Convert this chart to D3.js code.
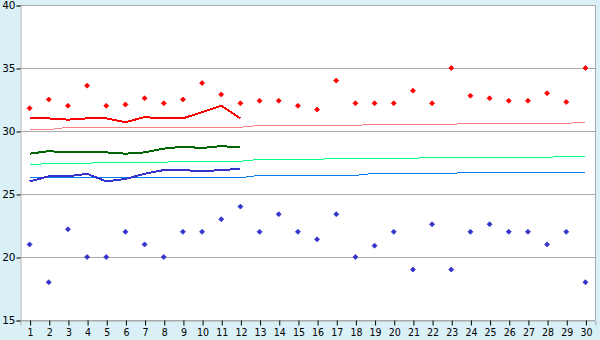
<!DOCTYPE html>
<html>
<head>
<meta charset="utf-8">
<script src="https://cdn.jsdelivr.net/npm/d3@7"></script>
<style>
  body { margin: 0; background: #d9f0f7; }
  svg { display: block; }
</style>
</head>
<body>
<div id="chart"></div>
<script>
// days of the month
const days = d3.range(1, 31);

// daily max / min (scatter points)
const dailyMax = [31.8, 32.5, 32.0, 33.6, 32.0, 32.1, 32.6, 32.2, 32.5, 33.8,
                  32.9, 32.2, 32.4, 32.4, 32.0, 31.7, 34.0, 32.2, 32.2, 32.2,
                  33.2, 32.2, 35.0, 32.8, 32.6, 32.4, 32.4, 33.0, 32.3, 35.0];
const dailyMin = [21.0, 18.0, 22.2, 20.0, 20.0, 22.0, 21.0, 20.0, 22.0, 22.0,
                  23.0, 24.0, 22.0, 23.4, 22.0, 21.4, 23.4, 20.0, 20.9, 22.0,
                  19.0, 22.6, 19.0, 22.0, 22.6, 22.0, 22.0, 21.0, 22.0, 18.0];

// running averages (first 12 days)
const avgMax  = [31.0, 31.0, 30.9, 31.0, 31.0, 30.7, 31.1, 31.0, 31.0, 31.5, 32.0, 31.0];
const avgMean = [28.2, 28.4, 28.3, 28.3, 28.3, 28.2, 28.3, 28.6, 28.75, 28.65, 28.8, 28.7];
const avgMin  = [26.0, 26.4, 26.4, 26.6, 26.0, 26.2, 26.6, 26.9, 26.9, 26.8, 26.9, 27.0];

// normals (whole month)
const normMax  = [30.1, 30.1, 30.3, 30.3, 30.3, 30.3, 30.3, 30.3, 30.3, 30.3,
                  30.3, 30.3, 30.45, 30.45, 30.45, 30.45, 30.45, 30.45, 30.53, 30.53,
                  30.53, 30.53, 30.53, 30.61, 30.61, 30.61, 30.61, 30.61, 30.61, 30.69];
const normMean = [27.3, 27.44, 27.44, 27.44, 27.52, 27.52, 27.52, 27.52, 27.6, 27.6,
                  27.6, 27.6, 27.75, 27.75, 27.75, 27.75, 27.83, 27.83, 27.83, 27.83,
                  27.83, 27.91, 27.91, 27.91, 27.91, 27.91, 27.91, 27.91, 27.99, 27.99];
const normMin  = [26.3, 26.3, 26.3, 26.3, 26.3, 26.3, 26.3, 26.3, 26.3, 26.3,
                  26.3, 26.3, 26.48, 26.48, 26.48, 26.48, 26.48, 26.48, 26.64, 26.64,
                  26.64, 26.64, 26.64, 26.72, 26.72, 26.72, 26.72, 26.72, 26.72, 26.72];

const yTicks = [15, 20, 25, 30, 35, 40];

const width = 600, height = 340;
const plotLeft = 20, plotRight = 595, plotTop = 5, plotBottom = 320;

const svg = d3.select("#chart").append("svg")
    .attr("width", width).attr("height", height);

const x = d3.scalePoint().domain(days).range([plotLeft, plotRight]).padding(0.5);
const y = d3.scaleLinear().domain([15, 40]).range([plotBottom, plotTop]);

// plot area
svg.append("rect")
    .attr("x", plotLeft).attr("y", plotTop)
    .attr("width", plotRight - plotLeft).attr("height", plotBottom - plotTop)
    .attr("fill", "#fff");

// grid
svg.append("g")
    .selectAll("line")
    .data(yTicks)
    .join("line")
    .attr("x1", plotLeft).attr("x2", plotRight)
    .attr("y1", d => y(d) + 0.5).attr("y2", d => y(d) + 0.5)
    .attr("stroke", "#aaa");

svg.append("line")
    .attr("x1", plotRight + 0.5).attr("x2", plotRight + 0.5)
    .attr("y1", plotTop).attr("y2", plotBottom)
    .attr("stroke", "#aaa");

// y axis
const yAxis = svg.append("g")
    .attr("transform", `translate(${plotLeft + 0.5},0.5)`)
    .call(d3.axisLeft(y).tickValues(yTicks).tickSize(4).tickPadding(1));
yAxis.select(".domain").attr("stroke", "#aaa");
yAxis.selectAll(".tick line").attr("stroke", "#000");
yAxis.selectAll("text").attr("font-family", "DejaVu Sans").attr("font-size", 10.5).attr("fill", "#000");

// x axis
const xAxis = svg.append("g")
    .attr("transform", `translate(0.5,${plotBottom + 0.5})`)
    .call(d3.axisBottom(x).tickSize(5).tickPadding(3));
xAxis.select(".domain").attr("stroke", "#aaa");
xAxis.selectAll(".tick line").attr("stroke", "#000");
xAxis.selectAll("text").attr("font-family", "DejaVu Sans Condensed").attr("font-size", 10.5).attr("fill", "#000");

function drawLine(values, color, w) {
    const line = d3.line()
        .x((d, i) => x(days[i]))
        .y(d => y(d));
    svg.append("path")
        .datum(values)
        .attr("d", line)
        .attr("fill", "none")
        .attr("stroke", color)
        .attr("stroke-width", w)
        .attr("shape-rendering", "crispEdges");
}

drawLine(normMax, "#ff8080", 1);
drawLine(normMean, "#00ff80", 1);
drawLine(normMin, "#0a7ae6", 1);
drawLine(avgMax, "#ff0000", 2);
drawLine(avgMean, "#006400", 2);
drawLine(avgMin, "#3333cc", 2);

function drawPoints(values, color) {
    svg.append("g")
        .selectAll("path")
        .data(values)
        .join("path")
        .attr("transform", (d, i) => `translate(${x(days[i])},${y(d)})`)
        .attr("d", "M0,-2.5L2.5,0L0,2.5L-2.5,0Z")
        .attr("fill", color)
        .attr("stroke", color)
        .attr("stroke-width", 0.8)
        .attr("stroke-linejoin", "round");
}

drawPoints(dailyMax, "#ff0000");
drawPoints(dailyMin, "#3333cc");
</script>
</body>
</html>
